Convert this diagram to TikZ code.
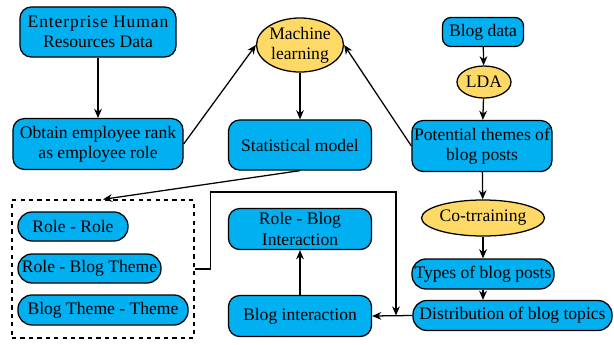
\documentclass[tikz,border=0pt]{standalone}
\usepackage{fontspec}
\setmainfont{Liberation Serif}
\newfontfamily\diagfont{Liberation Serif}
\usetikzlibrary{shapes.geometric,arrows.meta}
\definecolor{boxblue}{RGB}{0,176,240}
\definecolor{ovalyellow}{RGB}{255,217,102}
\begin{document}
\begin{tikzpicture}[x=0.025cm,y=-0.025cm,
  lbl/.style={font=\diagfont\fontsize{12.5}{14.5}\selectfont},
  box/.style={lbl, draw=black, line width=0.9pt, rounded corners=8pt, fill=boxblue, align=center, inner sep=1pt},
  pill/.style={box, rounded corners=10pt},
  oval/.style={lbl, draw=black, ellipse, line width=0.9pt, fill=ovalyellow, align=center, inner sep=0pt},
  arr/.style={-{Stealth[length=6.5pt,width=5.5pt]}, line width=0.9pt},
  grpbox/.style={draw=black, dashed, line width=0.9pt}]
\useasboundingbox (0,0) rectangle (614,344);

% left column
\node[box, minimum width=3.9cm, minimum height=1.25cm] (ehr) at (98,32) {{\addfontfeature{LetterSpace=5}Enterprise Human}\\Resources Data};
\node[box, minimum width=4.25cm, minimum height=1.27cm] (obt) at (98,144) {Obtain employee rank\\as employee role};

% middle column
\node[oval, minimum width=2.0cm, minimum height=1.35cm] (ml) at (300,45) {Machine\\learning};
\node[box, minimum width=3.575cm, minimum height=1.25cm] (stat) at (300,145) {Statistical model};
\node[box, minimum width=3.575cm, minimum height=1.025cm] (rbi) at (300,229) {Role - Blog\\Interaction};
\node[box, minimum width=3.575cm, minimum height=1.025cm] (bi) at (300,316) {Blog interaction};

% right column
\node[box, rounded corners=6pt, minimum width=2.025cm, minimum height=0.725cm] (bd) at (483,32) {Blog data};
\node[oval, minimum width=1.35cm, minimum height=0.8cm] (lda) at (484,82) {LDA};
\node[box, minimum width=3.5cm, minimum height=1.275cm] (pt) at (482,146) {Potential themes of\\blog posts};
\node[oval, minimum width=2.75cm, minimum height=0.9cm] (cot) at (483,218) {Co-trraining};
\node[pill, minimum width=3.55cm, minimum height=0.75cm] (tbp) at (483,274) {Types of blog posts};
\node[pill, minimum width=4.975cm, minimum height=0.75cm] (dbt) at (512.5,315.5) {Distribution of blog topics};

% dashed group
\node[grpbox, minimum width=4.55cm, minimum height=3.45cm, inner sep=0pt] (grp) at (103,269) {};
\node[pill, minimum width=2.75cm, minimum height=0.725cm] (rr) at (73,226.5) {Role - Role};
\node[pill, minimum width=3.575cm, minimum height=0.725cm] (rbt) at (89.5,268.5) {Role - Blog Theme};
\node[pill, minimum width=4.25cm, minimum height=0.75cm] (btt) at (103,310) {Blog Theme - Theme};

\coordinate (turn) at (396,192);
\coordinate (join) at (396,315.5);

% connectors
\draw[arr] (ehr) -- (obt);
\draw[arr] (obt.east) -- (ml.west);
\draw[arr] (ml) -- (stat);
\draw[arr] (pt.west) -- (ml.east);
\draw[arr] (bd) -- (lda);
\draw[arr] (lda) -- (pt);
\draw[arr] (pt) -- (cot);
\draw[arr] (cot) -- (tbp);
\draw[arr] (tbp.south) -- (tbp.south |- dbt.north);
\draw[arr] (stat.south) -- (grp.north);
\draw[arr] (grp.east) -- ++(16,0) |- (turn) -- (join);
\draw[arr] (dbt.west) -- (bi.east);
\draw[arr] (bi) -- (rbi);
\end{tikzpicture}
\end{document}
